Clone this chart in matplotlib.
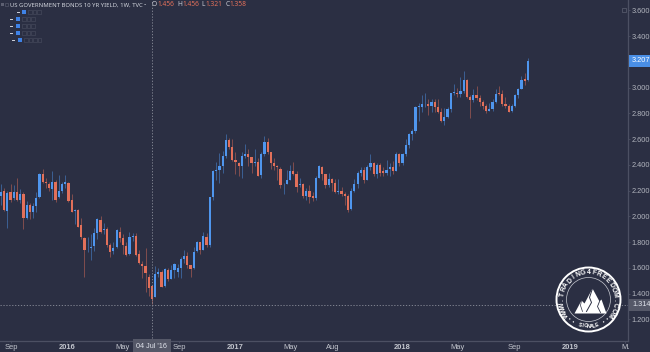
import numpy as np
import pandas as pd
import matplotlib
matplotlib.use('Agg')
import matplotlib.pyplot as plt
import matplotlib.dates as mdates
from matplotlib.patches import Circle, Rectangle, Polygon

# --- DATA: US 10Y yield, weekly candles (TVC) ---
FIRST_WEEK = '2015-08-10'
opens = [2.16, 2.20, 2.04, 2.19, 2.14, 2.19, 2.13, 2.17, 1.99, 2.09, 2.03, 2.08, 2.15, 2.33, 2.27, 2.25, 2.21, 2.27, 2.15, 2.20, 2.25,
         2.26, 2.13, 2.04, 2.05, 1.93, 1.83, 1.75, 1.75, 1.77, 1.87, 1.97, 1.89, 1.90, 1.78, 1.73, 1.76, 1.88, 1.83, 1.77, 1.71, 1.84,
         1.85, 1.71, 1.63, 1.61, 1.53, 1.456, 1.37, 1.55, 1.57, 1.46, 1.58, 1.51, 1.58, 1.57, 1.60, 1.67, 1.69, 1.62, 1.60, 1.73, 1.80,
         1.74, 1.84, 1.78, 2.15, 2.35, 2.36, 2.39, 2.47, 2.59, 2.54,
         2.44, 2.41, 2.39, 2.47, 2.48, 2.46, 2.41, 2.42, 2.32, 2.48, 2.58, 2.50, 2.41, 2.39, 2.37, 2.24, 2.25, 2.28, 2.35, 2.33, 2.24,
         2.25, 2.16, 2.20, 2.16, 2.14, 2.30, 2.38, 2.33, 2.24, 2.29, 2.26, 2.19, 2.20, 2.17, 2.16, 2.06, 2.20, 2.25, 2.34, 2.36, 2.28,
         2.38, 2.41, 2.33, 2.40, 2.35, 2.34, 2.37, 2.38, 2.35, 2.48,
         2.41, 2.48, 2.55, 2.64, 2.66, 2.85, 2.85, 2.87, 2.87, 2.86, 2.89, 2.85, 2.81, 2.74, 2.77, 2.83, 2.96, 2.96, 2.95, 2.97, 3.06,
         2.93, 2.90, 2.94, 2.92, 2.89, 2.86, 2.82, 2.83, 2.89, 2.96, 2.95, 2.87, 2.86, 2.82, 2.86, 2.94, 2.99, 3.07, 3.06]
highs = [2.25, 2.22, 2.20, 2.25, 2.24, 2.30, 2.21, 2.19, 2.12, 2.10, 2.10, 2.19, 2.34, 2.37, 2.30, 2.27, 2.35, 2.28, 2.32, 2.27, 2.32,
         2.27, 2.17, 2.06, 2.06, 1.99, 1.84, 1.84, 1.86, 1.91, 1.99, 2.00, 1.95, 1.92, 1.79, 1.80, 1.90, 1.92, 1.86, 1.80, 1.88, 1.87,
         1.87, 1.74, 1.65, 1.75, 1.55, 1.456, 1.61, 1.60, 1.58, 1.60, 1.60, 1.62, 1.64, 1.63, 1.68, 1.74, 1.72, 1.62, 1.76, 1.81, 1.80,
         1.88, 1.87, 2.15, 2.36, 2.42, 2.49, 2.51, 2.64, 2.61, 2.60,
         2.50, 2.42, 2.50, 2.56, 2.52, 2.46, 2.52, 2.45, 2.50, 2.62, 2.61, 2.50, 2.45, 2.40, 2.38, 2.26, 2.36, 2.40, 2.42, 2.35, 2.30,
         2.26, 2.22, 2.24, 2.19, 2.31, 2.40, 2.39, 2.33, 2.34, 2.30, 2.29, 2.29, 2.23, 2.19, 2.17, 2.22, 2.29, 2.35, 2.38, 2.38, 2.40,
         2.48, 2.42, 2.41, 2.41, 2.38, 2.44, 2.41, 2.43, 2.50, 2.49,
         2.49, 2.60, 2.65, 2.68, 2.86, 2.88, 2.94, 2.96, 2.91, 2.91, 2.91, 2.91, 2.84, 2.84, 2.85, 2.96, 3.03, 3.00, 3.08, 3.13, 3.07,
         2.94, 2.99, 3.01, 2.94, 2.90, 2.87, 2.88, 2.91, 2.99, 3.01, 2.98, 2.93, 2.87, 2.87, 2.95, 3.00, 3.09, 3.11, 3.23]
lows = [2.09, 2.04, 1.91, 2.11, 2.13, 2.12, 2.10, 1.90, 1.98, 1.98, 1.99, 2.03, 2.14, 2.26, 2.22, 2.20, 2.13, 2.11, 2.14, 2.18, 2.22,
        2.11, 2.03, 1.94, 1.92, 1.82, 1.53, 1.72, 1.66, 1.73, 1.82, 1.87, 1.86, 1.76, 1.68, 1.71, 1.75, 1.80, 1.71, 1.69, 1.70, 1.81,
        1.69, 1.63, 1.52, 1.41, 1.38, 1.321, 1.37, 1.53, 1.45, 1.45, 1.50, 1.51, 1.52, 1.53, 1.52, 1.64, 1.60, 1.53, 1.59, 1.72, 1.71,
        1.74, 1.76, 1.76, 2.13, 2.28, 2.26, 2.34, 2.45, 2.52, 2.43,
        2.33, 2.31, 2.30, 2.45, 2.39, 2.34, 2.39, 2.31, 2.30, 2.47, 2.48, 2.37, 2.36, 2.28, 2.22, 2.17, 2.25, 2.28, 2.32, 2.19, 2.23,
        2.14, 2.13, 2.10, 2.12, 2.13, 2.30, 2.28, 2.22, 2.23, 2.20, 2.18, 2.17, 2.16, 2.09, 2.03, 2.05, 2.19, 2.22, 2.31, 2.26, 2.28,
        2.36, 2.31, 2.30, 2.31, 2.31, 2.32, 2.31, 2.33, 2.35, 2.39,
        2.40, 2.47, 2.53, 2.59, 2.65, 2.74, 2.81, 2.85, 2.79, 2.81, 2.81, 2.80, 2.73, 2.71, 2.76, 2.81, 2.94, 2.93, 2.93, 2.96, 2.92,
        2.76, 2.89, 2.90, 2.86, 2.83, 2.80, 2.82, 2.82, 2.88, 2.94, 2.86, 2.84, 2.81, 2.81, 2.85, 2.92, 2.99, 3.02, 3.05]
closes = [2.19, 2.05, 2.18, 2.13, 2.19, 2.13, 2.17, 1.99, 2.09, 2.03, 2.08, 2.14, 2.33, 2.27, 2.26, 2.22, 2.27, 2.13, 2.20, 2.25, 2.27,
          2.12, 2.03, 2.05, 1.92, 1.84, 1.74, 1.75, 1.76, 1.87, 1.98, 1.88, 1.90, 1.78, 1.72, 1.75, 1.89, 1.83, 1.78, 1.70, 1.84, 1.85,
          1.70, 1.64, 1.61, 1.56, 1.44, 1.358, 1.55, 1.57, 1.45, 1.59, 1.51, 1.58, 1.63, 1.60, 1.67, 1.69, 1.62, 1.59, 1.72, 1.80, 1.74,
          1.85, 1.78, 2.15, 2.35, 2.36, 2.39, 2.47, 2.59, 2.54, 2.44,
          2.42, 2.39, 2.47, 2.48, 2.46, 2.41, 2.42, 2.31, 2.48, 2.58, 2.50, 2.41, 2.39, 2.38, 2.24, 2.24, 2.28, 2.35, 2.33, 2.23, 2.25,
          2.16, 2.20, 2.15, 2.14, 2.30, 2.39, 2.33, 2.24, 2.29, 2.26, 2.19, 2.20, 2.17, 2.16, 2.05, 2.20, 2.25, 2.34, 2.36, 2.28, 2.38,
          2.41, 2.33, 2.40, 2.34, 2.34, 2.36, 2.38, 2.35, 2.48, 2.41,
          2.48, 2.55, 2.64, 2.66, 2.85, 2.85, 2.87, 2.87, 2.86, 2.89, 2.85, 2.81, 2.74, 2.77, 2.83, 2.96, 2.96, 2.95, 2.97, 3.06, 2.93,
          2.90, 2.94, 2.92, 2.89, 2.86, 2.82, 2.83, 2.89, 2.95, 2.95, 2.87, 2.86, 2.81, 2.86, 2.94, 2.99, 3.06, 3.05, 3.207]

# 3.200 sits under the last-price tag in the reference, so it is not labelled
price_ticks = [1.2, 1.4, 1.6, 1.8, 2.0, 2.2, 2.4, 2.6, 2.8, 3.0, 3.4, 3.6]
time_ticks = ['2015-09-01', '2016-01-01', '2016-05-01', '2016-09-01', '2017-01-01', '2017-05-01', '2017-08-01',
              '2018-01-01', '2018-05-01', '2018-09-01', '2019-01-01', '2019-05-01']
time_labels = ['Sep', '2016', 'May', 'Sep', '2017', 'May', 'Aug', '2018', 'May', 'Sep', '2019', 'M.']
year_labels = ['2016', '2017', '2018', '2019']

TITLE = 'US GOVERNMENT BONDS 10 YR YIELD, 1W, TVC'
CROSS_DATE = '2016-07-04'
CROSS_LABEL = "04 Jul '16"
CROSS_PRICE = 1.314
LAST_PRICE = 3.207
HOVER_OHLC = [('O', '1.456'), ('H', '1.456'), ('L', '1.321'), ('C', '1.358')]

# --- STYLE ---
BG = '#2b2f43'
UP = '#4f96ee'
DOWN = '#e2705a'
AXIS = '#4c5063'
TXT = '#b2b5be'

plt.rcParams['font.family'] = ['Liberation Sans', 'DejaVu Sans']

fig = plt.figure(figsize=(6.5, 3.52), dpi=100, facecolor=BG)
ax = fig.add_axes([0, 11.5 / 352, 628 / 650, 340.5 / 352])
ax.set_facecolor(BG)

# --- candles ---
x = mdates.date2num(pd.date_range(FIRST_WEEK, periods=len(closes), freq='7D'))
o, h, l, c = (np.array(v) for v in (opens, highs, lows, closes))
up = c >= o
ax.vlines(x, l, h, colors=np.where(up, UP, DOWN), lw=0.6, alpha=0.55, zorder=2)
ax.bar(x, np.maximum(np.abs(c - o), 0.006), bottom=np.minimum(o, c), width=4.8,
       color=np.where(up, UP, DOWN), lw=0, zorder=3)

ax.set_xlim(mdates.date2num(pd.Timestamp('2015-08-08')), mdates.date2num(pd.Timestamp('2019-05-07')))
ax.set_ylim(1.035, 3.680)

# crosshair
xc = mdates.date2num(pd.Timestamp(CROSS_DATE))
ax.axvline(xc, color='#8d909c', lw=0.6, ls=(0, (1.5, 2)), zorder=4)
ax.axhline(CROSS_PRICE, color='#8d909c', lw=0.6, ls=(0, (1.5, 2)), zorder=4)

# axes styling
for s in ['left', 'top']:
    ax.spines[s].set_visible(False)
for s in ['right', 'bottom']:
    ax.spines[s].set_color(AXIS)
    ax.spines[s].set_linewidth(0.9)
ax.yaxis.tick_right()
ax.set_yticks(price_ticks)
ax.set_yticklabels([f'{v:.3f}' for v in price_ticks])
ax.set_xticks(mdates.date2num(pd.to_datetime(time_ticks)))
ax.set_xticklabels(time_labels)
ax.tick_params(axis='y', colors=AXIS, labelcolor=TXT, labelsize=5.3, length=1.5, pad=1.0, width=0.6)
ax.tick_params(axis='x', colors=AXIS, labelcolor='#c3c6ce', labelsize=5.4, length=1.2, pad=1.0, width=0.6)
for t in ax.get_xticklabels():
    if t.get_text() in year_labels:
        t.set_fontweight('bold')

# price tags
ytr = ax.get_yaxis_transform()
ax.text(1.0 + 4 / 628, LAST_PRICE, f'{LAST_PRICE:.3f}', transform=ytr, ha='left', va='center', fontsize=5.3,
        color='white', clip_on=False, zorder=10,
        bbox=dict(boxstyle='square,pad=0.35', fc='#4a8fe6', ec='none'))
ax.text(1.0 + 4 / 628, CROSS_PRICE, f'{CROSS_PRICE:.3f}', transform=ytr, ha='left', va='center', fontsize=5.3,
        color='#e0e3eb', clip_on=False, zorder=10,
        bbox=dict(boxstyle='square,pad=0.35', fc='#555868', ec='none'))
ax.text(xc, -11.5 / 340.5 * 0.48, CROSS_LABEL, transform=ax.get_xaxis_transform(), ha='center', va='center',
        fontsize=5.2, color='#e0e3eb', clip_on=False, zorder=10,
        bbox=dict(boxstyle='square,pad=0.45', fc='#555868', ec='none'))

# --- overlay in pixel coordinates: header, legend icons, logo ---
ov = fig.add_axes([0, 0, 1, 1])
ov.set_xlim(0, 650)
ov.set_ylim(352, 0)
ov.axis('off')
rend = fig.canvas.get_renderer()

def px_width(t):
    return t.get_window_extent(renderer=rend).width

# title squeezed to the width it takes in the reference (x 10..142), condensed face if there is one
HEAD = dict(family=['Noto Sans', 'Liberation Sans'], fontstretch='condensed')
title = ov.text(10, 4.8, TITLE, fontsize=6, fontweight='bold', color='#d1d4dc', va='center', ha='left', **HEAD)
title.set_fontsize(6 * 132 / px_width(title))
ov.text(145, 4.4, '-', fontsize=5, color='#d1d4dc', va='center', ha='center')

# hover OHLC values, laid out one after the other
xx = 152
for key, val in HOVER_OHLC:
    k = ov.text(xx, 4.8, key, fontsize=4.8, color='#c8cad3', va='center', ha='left', **HEAD)
    xx += px_width(k) + 0.4
    v = ov.text(xx, 4.8, val, fontsize=4.8, color=DOWN, va='center', ha='left', **HEAD)
    xx += px_width(v) + 2.6
ov.add_patch(Rectangle((1, 2.8), 3, 3.5, fc='#5d6072', ec='none'))
ov.add_patch(Rectangle((5, 2.8), 3, 3.5, fc='none', ec='#5d6072', lw=0.4))

# indicator legend rows (collapsed)
rows = [(11.8, 18, 22), (18.8, 11, 16), (25.8, 11, 16), (33.0, 11, 16), (40.0, 13, 18)]
for i, (yy, xd, xb) in enumerate(rows):
    ov.plot([xd - 1.2, xd + 1.2], [yy, yy], color='#d1d4dc', lw=0.7)
    ov.add_patch(Rectangle((xb, yy - 2), 4.2, 4.2, fc='#3f82e6', ec='none'))
    for k in range(4 if i == 4 else 3):
        ov.add_patch(Rectangle((xb + 6 + 4.6 * k, yy - 1.8), 3.6, 3.6, fc='none', ec='#4a4e61', lw=0.4))
ov.add_patch(Rectangle((621.5, 7.5), 4, 4, fc='none', ec='#5d6072', lw=0.5))

# watermark logo
cx, cy = 588.5, 299.5
ov.add_patch(Circle((cx, cy), 33.2, fc=BG, ec='none', zorder=5))
ov.add_patch(Circle((cx, cy), 32.0, fc='none', ec='white', lw=1.4, zorder=6))
ov.add_patch(Circle((cx, cy), 22.0, fc='none', ec='#c9cbd2', lw=0.5, zorder=6))

def arc_text(s, r, a0, a1, top=True, size=4.2):
    angs = np.linspace(a0, a1, len(s))
    for ch, a in zip(s, angs):
        t = np.deg2rad(a)
        rot = a - 90 if top else a + 90
        ov.text(cx + r * np.cos(t), cy - r * np.sin(t), ch, rotation=rot, rotation_mode='anchor',
                ha='center', va='center', fontsize=size, fontweight='bold', color='white', zorder=7)

arc_text('WWW.TRADING4FREEDOM.COM', 26.6, 214, -34, top=True, size=4.9)
arc_text('SIGNALE', 26.8, 252, 288, top=False, size=3.8)
for a in [226, 236, 304, 314]:
    t = np.deg2rad(a)
    ov.add_patch(Circle((cx + 27 * np.cos(t), cy - 27 * np.sin(t)), 0.7, fc='white', ec='none', zorder=7))

mountain = [(-14, 14), (-7, 1), (-4, 4), (4, -11), (11, 2), (13, 0), (18, 14)]
ov.add_patch(Polygon([(cx + a, cy + b) for a, b in mountain], closed=True, fc='white', ec='none', zorder=7))
ov.plot([cx + 4, cx + 1, cx + 3, cx - 2], [cy - 11, cy - 2, cy + 3, cy + 12], color=BG, lw=0.7, zorder=8)
ov.plot([cx + 11, cx + 9, cx + 12], [cy + 2, cy + 7, cy + 13], color=BG, lw=0.6, zorder=8)
ov.plot([cx - 7, cx - 8, cx - 6], [cy + 1, cy + 6, cy + 12], color=BG, lw=0.5, zorder=8)

fig.savefig('out.png', dpi=100, facecolor=BG)
